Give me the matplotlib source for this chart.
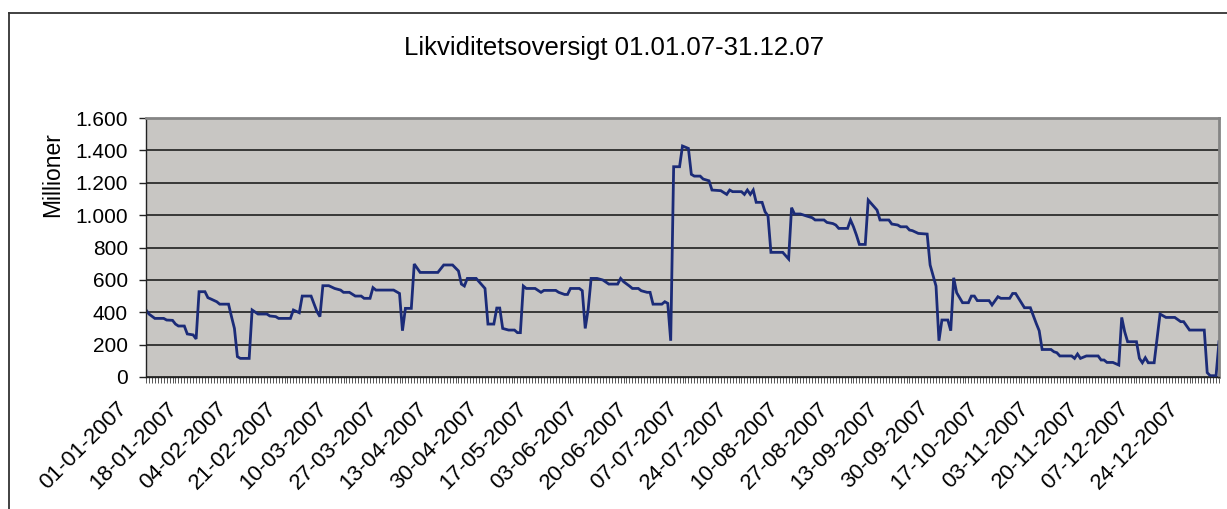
import matplotlib
matplotlib.use('Agg')
import matplotlib.pyplot as plt
from matplotlib.ticker import MultipleLocator, FixedLocator, FuncFormatter
from matplotlib.lines import Line2D
import matplotlib.transforms as mtransforms

plt.rcParams['font.family'] = ['Liberation Sans', 'DejaVu Sans']

# dag i aaret (0 = 01-01-2007) og saldo i millioner, aflaest fra grafen
days = [0, 1, 3, 6, 7, 9, 10, 11, 13, 14, 16, 17, 18, 20, 21, 22, 24, 25, 28, 29,
        30, 31, 32, 35, 36, 38, 41, 42, 44, 45, 49, 50, 52, 53, 56, 58, 59, 60, 62, 64,
        66, 67, 69, 71, 73, 74, 76, 77, 78, 84, 86, 87, 88, 90, 91, 93, 99, 101, 104, 106,
        107, 108, 109, 112, 115, 116, 118, 119, 120, 121, 123, 125, 126, 127, 128, 129, 132, 134, 135, 139,
        140, 142, 143, 144, 147, 148, 149, 150, 151, 153, 155, 157, 160, 161, 162, 164, 165, 167, 168, 170,
        171, 172, 175, 176, 177, 178, 179, 181, 182, 184, 185, 186, 188, 189, 191, 192, 195, 197, 198, 199,
        202, 203, 204, 205, 206, 207, 209, 210, 211, 212, 216, 217, 218, 219, 220, 222, 224, 226, 227, 230,
        231, 233, 234, 235, 238, 239, 240, 241, 242, 244, 245, 246, 248, 249, 252, 253, 255, 256, 258, 259,
        260, 262, 265, 266, 268, 269, 270, 272, 273, 274, 275, 277, 279, 280, 281, 282, 286, 287, 289, 290,
        293, 294, 295, 298, 300, 302, 303, 304, 307, 308, 309, 310, 314, 315, 316, 317, 319, 323, 324, 325,
        326, 328, 330, 331, 332, 333, 336, 337, 338, 339, 340, 342, 344, 346, 349, 351, 352, 354, 359, 360,
        361, 363, 364]
values = [414, 389, 362, 362, 352, 350, 327, 315, 315, 266, 260, 235, 527, 527, 490, 482, 465, 450, 450, 373,
          300, 126, 115, 115, 414, 389, 389, 377, 373, 362, 362, 414, 397, 500, 500, 404, 373, 564, 564, 547,
          537, 523, 523, 500, 500, 486, 486, 552, 537, 537, 516, 286, 424, 424, 698, 646, 646, 692, 692, 655,
          574, 562, 609, 609, 547, 327, 327, 426, 426, 300, 290, 290, 274, 274, 562, 547, 547, 523, 535, 535,
          523, 510, 510, 547, 547, 533, 300, 418, 609, 609, 599, 574, 574, 609, 589, 562, 547, 547, 533, 523,
          523, 450, 450, 465, 455, 224, 1299, 1299, 1427, 1412, 1252, 1241, 1241, 1223, 1212, 1155, 1151, 1128, 1155, 1145,
          1145, 1128, 1155, 1128, 1155, 1079, 1079, 1021, 995, 770, 770, 750, 729, 1046, 1007, 1007, 995, 984, 970, 970,
          955, 948, 939, 918, 918, 970, 928, 877, 819, 819, 1093, 1072, 1031, 970, 970, 945, 939, 928, 928, 908,
          904, 887, 883, 692, 562, 224, 352, 352, 286, 613, 521, 459, 459, 500, 500, 472, 472, 445, 496, 486,
          486, 516, 516, 428, 428, 331, 286, 170, 170, 156, 150, 130, 130, 115, 142, 115, 130, 130, 105, 105,
          90, 90, 74, 368, 280, 218, 218, 115, 88, 119, 88, 88, 389, 368, 368, 342, 342, 290, 290, 27,
          8, 8, 218]

date_labels = ['01-01-2007', '18-01-2007', '04-02-2007', '21-02-2007', '10-03-2007', '27-03-2007',
               '13-04-2007', '30-04-2007', '17-05-2007', '03-06-2007', '20-06-2007', '07-07-2007',
               '24-07-2007', '10-08-2007', '27-08-2007', '13-09-2007', '30-09-2007', '17-10-2007',
               '03-11-2007', '20-11-2007', '07-12-2007', '24-12-2007']
label_step = 17
n_days = 365

W, H = 1227, 509
fig = plt.figure(figsize=(W / 100, H / 100), dpi=100)
ax = fig.add_axes([146 / W, 1 - 377 / H, (1219 - 146) / W, (377 - 118) / H])
ax.set_facecolor('#c8c6c3')

ax.plot(days, values, color='#1b2b78', lw=2.0, solid_joinstyle='miter')

ax.set_xlim(0, n_days - 1)
ax.set_ylim(0, 1600)

# y-akse
ax.yaxis.set_major_locator(MultipleLocator(200))
ax.yaxis.set_major_formatter(FuncFormatter(lambda v, p: f"{int(v):,}".replace(',', '.')))
ax.tick_params(axis='y', direction='out', length=5, width=1, pad=8, labelsize=15, color='#222222')
ax.grid(axis='y', color='#111111', lw=1.1)
ax.set_axisbelow(True)

# x-akse: en tick pr. dag, label hver 17. dag
ax.xaxis.set_minor_locator(MultipleLocator(1))
ax.xaxis.set_major_locator(FixedLocator(list(range(0, n_days, label_step))))
ax.set_xticklabels(date_labels, rotation=45, ha='right', va='top', rotation_mode='anchor')
ax.tick_params(axis='x', which='both', direction='out', length=4, width=0.7, color='#555555')
ax.tick_params(axis='x', which='major', labelsize=16, pad=11)
shift = mtransforms.ScaledTranslation(-30 / 100, 0, fig.dpi_scale_trans)
for lbl in ax.get_xticklabels():
    lbl.set_transform(lbl.get_transform() + shift)

for side in ['top', 'right']:
    ax.spines[side].set_color('#858585')
    ax.spines[side].set_linewidth(2)
for side in ['left', 'bottom']:
    ax.spines[side].set_color('#222222')
    ax.spines[side].set_linewidth(1)

ax.set_ylabel('Millioner', fontsize=16.5)
ax.yaxis.set_label_coords(-0.076, 0.78)

fig.text(0.5, 1 - 48 / H, 'Likviditetsoversigt 01.01.07-31.12.07', ha='center', va='center', fontsize=18.5)

# ramme om diagrammet
fig.add_artist(Line2D([9 / W, 1], [1 - 13 / H, 1 - 13 / H], color='#333333', lw=1.3))
fig.add_artist(Line2D([9 / W, 9 / W], [0, 1 - 13 / H], color='#333333', lw=1.3))

fig.savefig('out.png', dpi=100)
